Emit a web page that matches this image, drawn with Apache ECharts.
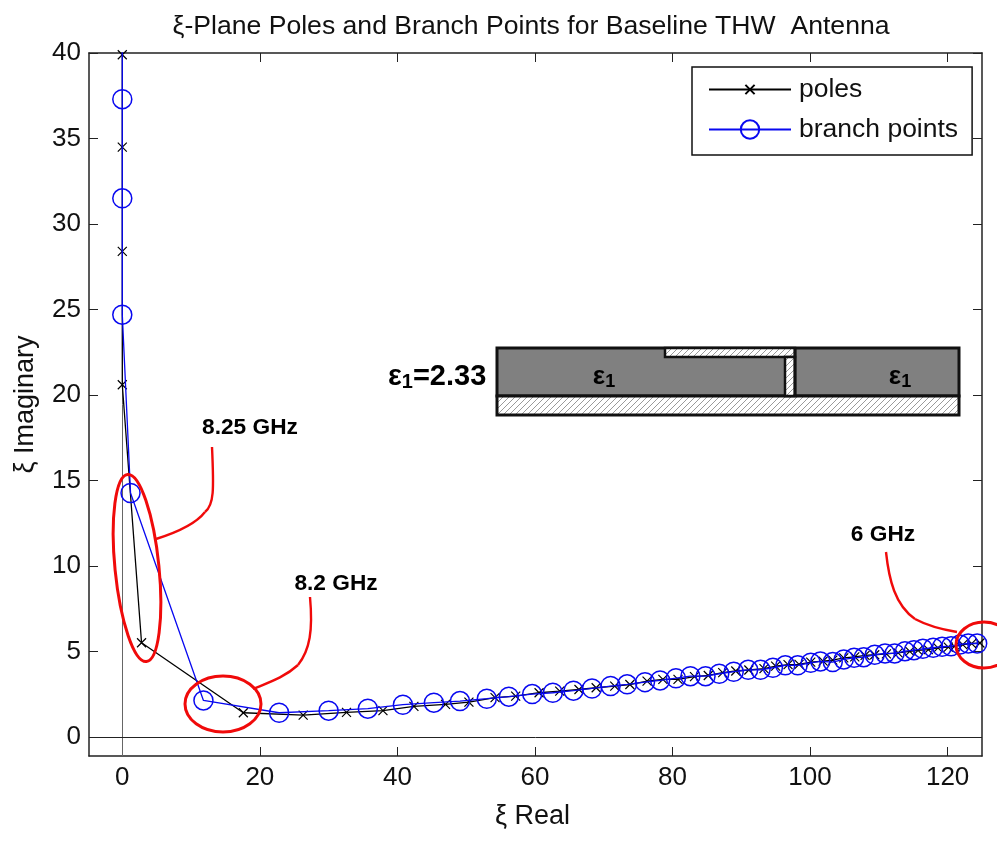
<!DOCTYPE html>
<html><head><meta charset="utf-8">
<style>html,body{margin:0;padding:0;background:#fff}#c{width:997px;height:846px}</style>
<script src="https://cdn.jsdelivr.net/npm/echarts@6/dist/echarts.min.js"></script>
</head><body><div id="c"></div>
<script>
const xTicks=[0,20,40,60,80,100,120];
const yTicks=[0,5,10,15,20,25,30,35,40];
const poles=[[0,39.9],[0,34.5],[0,28.4],[0,20.6],[2.8,5.51],[17.6,1.42],[26.3,1.28],[32.6,1.44],[37.9,1.54],[42.4,1.79],[47.0,1.91],[50.4,2.04],[54.2,2.30],[57.2,2.39],[60.6,2.59],[63.6,2.68],[66.4,2.78],[68.9,2.88],[71.6,2.98],[73.8,3.07],[76.3,3.27],[78.6,3.37],[80.8,3.37],[83.2,3.53],[85.2,3.60],[87.3,3.77],[89.2,3.86],[91.1,3.92],[93.3,4.00],[95.0,4.15],[96.8,4.23],[98.4,4.25],[100.1,4.38],[101.9,4.44],[103.3,4.50],[104.9,4.63],[106.5,4.69],[108.0,4.77],[109.4,4.81],[111.1,4.86],[112.8,4.92],[114.5,5.01],[115.7,5.07],[117.2,5.11],[118.6,5.21],[120.1,5.26],[121.0,5.30],[122.2,5.40],[123.5,5.46],[124.7,5.50]];
const branchPoints=[[0,43],[0,37.3],[0,31.5],[0,24.7],[1.2,14.27],[11.8,2.14],[22.8,1.42],[30.0,1.54],[35.7,1.66],[40.8,1.89],[45.3,2.01],[49.1,2.10],[53.0,2.24],[56.2,2.36],[59.6,2.51],[62.6,2.59],[65.6,2.71],[68.3,2.84],[71.0,2.98],[73.4,3.08],[76.0,3.21],[78.2,3.31],[80.5,3.44],[82.6,3.56],[84.8,3.56],[86.8,3.70],[88.9,3.82],[91.0,3.93],[92.8,3.93],[94.6,4.05],[96.4,4.19],[98.2,4.19],[100.1,4.34],[101.5,4.42],[103.3,4.38],[104.9,4.54],[106.4,4.63],[107.8,4.67],[109.4,4.81],[110.9,4.89],[112.3,4.89],[113.8,5.02],[115.1,5.08],[116.4,5.16],[117.9,5.22],[119.2,5.28],[120.5,5.31],[121.8,5.41],[123.0,5.47],[124.3,5.47]];

const FONT='"Liberation Sans", Arial, sans-serif';
const hatch=document.createElement('canvas');hatch.width=6;hatch.height=6;
(function(){const g=hatch.getContext('2d');g.fillStyle='#fff';g.fillRect(0,0,6,6);g.strokeStyle='#9a9a9a';g.lineWidth=1;
g.beginPath();g.moveTo(-1,7);g.lineTo(7,-1);g.moveTo(-1,1);g.lineTo(1,-1);g.moveTo(5,7);g.lineTo(7,5);g.stroke();})();
const hatchFill={image:hatch,repeat:'repeat'};
const xLimits={min:-4.84,max:125};
const yLimits={min:-1.11,max:40};
const axisStyle={lineStyle:{color:'#222',width:1.5}};
const red={stroke:'#f00a0a',fill:'none',lineWidth:2.4};
function rect(x,y,w,h,fill,lw){return {type:'rect',shape:{x,y,width:w,height:h},style:{fill,stroke:'#111',lineWidth:lw||3},z:20};}
function label(text,x,y,size,align){return {type:'text',x,y,z:30,style:{text,font:'bold '+size+'px '+FONT,fill:'#000',align:align||'center',verticalAlign:'middle'}};}
function eps(text,x,y,align,size){const s=size||26;return {type:'text',x,y,z:30,style:{text,align:align||'center',verticalAlign:'middle',fill:'#000',
  font:'bold '+s+'px '+FONT,rich:{e:{font:'bold '+s+'px '+FONT,fill:'#000'},s:{font:'bold '+Math.round(s*0.7)+'px '+FONT,fill:'#000',padding:[10,0,0,0]},m:{font:'bold '+s+'px '+FONT,fill:'#000'}}}};}
function curve(x1,y1,cpx1,cpy1,cpx2,cpy2,x2,y2){return {type:'bezierCurve',shape:{x1,y1,cpx1,cpy1,cpx2,cpy2,x2,y2},style:red,z:25};}

const chart=echarts.init(document.getElementById('c'),null,{renderer:'canvas'});
chart.setOption({
  animation:false,backgroundColor:'#fff',
  title:{text:'ξ-Plane Poles and Branch Points for Baseline THW  Antenna',left:526,textAlign:'center',top:8,textStyle:{fontFamily:FONT,fontSize:26.6,fontWeight:'normal',color:'#111'}},
  grid:{left:89,top:53,right:15,bottom:90,show:false},
  xAxis:[
   {type:'value',...xLimits,position:'bottom',name:'ξ Real',nameLocation:'middle',nameGap:47,nameTextStyle:{fontFamily:FONT,fontSize:27,color:'#111',padding:[0,6,0,0]},splitLine:{show:false},
    axisLine:{show:true,onZero:false,...axisStyle},axisTick:{show:true,inside:true,length:9,customValues:xTicks,lineStyle:{color:'#222'}},
    axisLabel:{customValues:xTicks,fontFamily:FONT,fontSize:26,color:'#111',margin:9}},
   {type:'value',...xLimits,position:'top',splitLine:{show:false},
    axisLine:{show:true,onZero:false,...axisStyle},axisTick:{show:true,inside:true,length:9,customValues:xTicks,lineStyle:{color:'#222'}},axisLabel:{show:false}}
  ],
  yAxis:[
   {type:'value',...yLimits,position:'left',name:'ξ Imaginary',nameLocation:'middle',nameGap:50,nameTextStyle:{fontFamily:FONT,fontSize:27,color:'#111'},splitLine:{show:false},
    axisLine:{show:true,onZero:false,...axisStyle},axisTick:{show:true,inside:true,length:9,customValues:yTicks,lineStyle:{color:'#222'}},
    axisLabel:{customValues:yTicks,fontFamily:FONT,fontSize:26,color:'#111',margin:8}},
   {type:'value',...yLimits,position:'right',splitLine:{show:false},
    axisLine:{show:true,onZero:false,...axisStyle},axisTick:{show:true,inside:true,length:9,customValues:yTicks,lineStyle:{color:'#222'}},axisLabel:{show:false}}
  ],
  legend:{left:692,top:67,orient:'vertical',padding:[9,14,12,16],itemWidth:82,itemHeight:23,itemGap:13,backgroundColor:'#fff',borderColor:'#111',borderWidth:1.5,
    textStyle:{fontFamily:FONT,fontSize:26.5,color:'#111',padding:[0,0,0,3]},data:['poles','branch points']},
  series:[
   {name:'poles',type:'line',data:poles,symbol:'path://M0 0L0 0M20 20L20 20M5 5L15 15M15 5L5 15',symbolSize:18,itemStyle:{color:'rgba(0,0,0,0)',borderColor:'#000',borderWidth:1.2},lineStyle:{color:'#000',width:1.3},
    markLine:{silent:true,z:1,symbol:'none',label:{show:false},animation:false,data:[
      {xAxis:0,lineStyle:{color:'#666',width:1,type:'solid'}},
      {yAxis:0,lineStyle:{color:'#222',width:1,type:'solid'}}]},z:3},
   {name:'branch points',type:'line',data:branchPoints,symbol:'circle',symbolSize:19,itemStyle:{color:'rgba(0,0,0,0)',borderColor:'#0808f0',borderWidth:1.5},lineStyle:{color:'#0808f0',width:1.3},z:4}
  ],
  graphic:{elements:[
    rect(497,348,462,48,'#808080'),
    rect(497,396,462,19,hatchFill),
    rect(665,348,130,9,hatchFill,2.5),
    rect(785,357,10,39,hatchFill,2.5),
    {type:'line',shape:{x1:795,y1:348,x2:795,y2:396},style:{stroke:'#111',lineWidth:3},z:21},
    eps('{e|ε}{s|1}{m|=2.33}',388,377,'left',29),
    eps('{e|ε}{s|1}',604,377),
    eps('{e|ε}{s|1}',900,377),
    label('8.25 GHz',250,428,22.7),
    label('8.2 GHz',336,584,22.7),
    label('6 GHz',883,535,22.7),
    {type:'ellipse',x:137,y:568,rotation:0.1,shape:{cx:0,cy:0,rx:22,ry:94},style:{...red,lineWidth:3},z:25},
    {type:'ellipse',x:223,y:704,shape:{cx:0,cy:0,rx:38,ry:28},style:{...red,lineWidth:3},z:25},
    {type:'ellipse',x:984,y:645,shape:{cx:0,cy:0,rx:28,ry:23},style:{...red,lineWidth:3},z:25},
    curve(212,447,214,490,214,505,205,512),
    curve(205,512,195,525,175,533,156,539),
    curve(310,597,313,630,310,650,298,665),
    curve(298,665,285,677,270,682,253,689),
    curve(886,552,889,580,895,605,915,619),
    curve(915,619,928,626,945,630,957,632)
  ]}
});
</script></body></html>
